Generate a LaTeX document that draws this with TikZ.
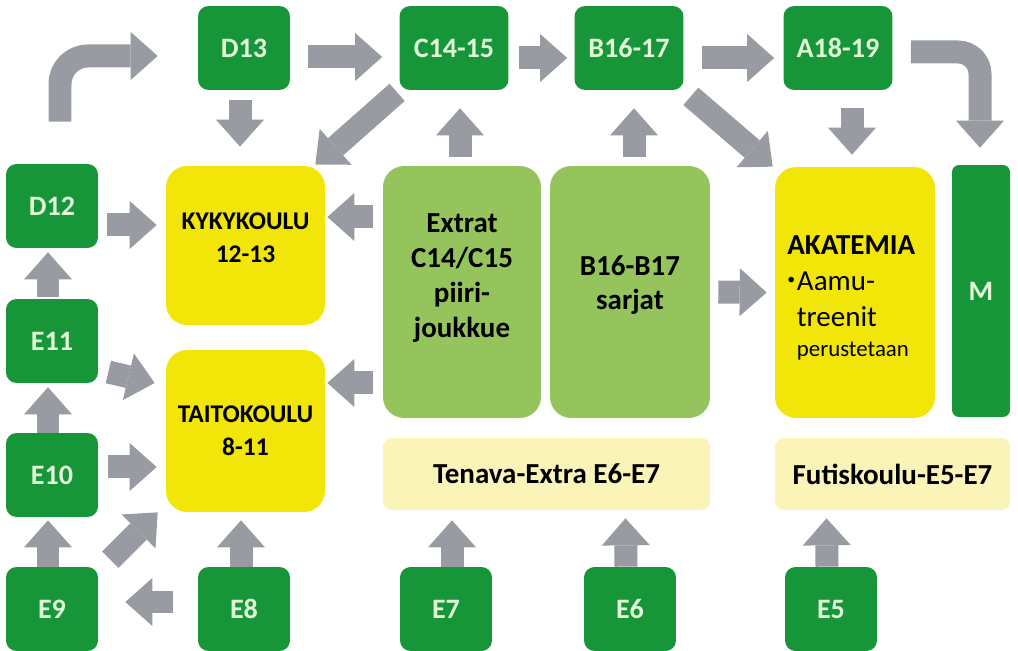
\documentclass[tikz,border=0pt]{standalone}
\usepackage{fontspec}
\setmainfont{Carlito}
\usepackage{xcolor}
\usepackage{tikz}
\usetikzlibrary{calc}
\usetikzlibrary{arrows.meta}
\definecolor{agegreen}{RGB}{22,150,56}
\definecolor{agetext}{RGB}{226,246,216}
\definecolor{kouluyellow}{RGB}{242,230,8}
\definecolor{extragreen}{RGB}{150,196,92}
\definecolor{paleyellow}{RGB}{250,244,184}
\definecolor{arrowgray}{RGB}{152,156,162}
\newcommand{\pikkupallo}{\raisebox{3pt}{\fontsize{9}{9}\selectfont\textbullet}\hspace{1pt}}
\tikzset{
	agebox/.style={rectangle,rounded corners=6pt,fill=agegreen,text=agetext,inner sep=0pt,minimum width=1.84cm,minimum height=1.68cm,font=\fontsize{16}{19}\selectfont\bfseries},
	widebox/.style={agebox,minimum width=2.18cm},
	bigbox/.style={rectangle,rounded corners=12pt,inner sep=0pt},
	bandbox/.style={rectangle,rounded corners=5pt,fill=paleyellow,inner sep=0pt,minimum height=1.44cm,font=\fontsize{16.5}{20}\selectfont\bfseries},
	koulutext/.style={align=center,inner sep=0pt,font=\fontsize{14.5}{18.7}\selectfont\bfseries},
	extratext/.style={align=center,inner sep=0pt,font=\fontsize{16.5}{19.8}\selectfont\bfseries},
	bigarrow/.style={draw=arrowgray,line width=0.46cm,-{Triangle[width=0.96cm,length=0.54cm,line width=0pt]}}
}
\begin{document}
\begin{tikzpicture}[x=0.02cm,y=-0.02cm]
	\useasboundingbox (0,0) rectangle (1018,651);
	% ikaluokat
	\node[agebox] (D13) at (244,48) {D13};
	\node[widebox] (C14) at (454,48) {C14-15};
	\node[widebox] (B16) at (629,48) {B16-17};
	\node[widebox] (A18) at (838,48) {A18-19};
	\node[agebox] (D12) at (52,206) {D12};
	\node[agebox] (E11) at (52,341) {E11};
	\node[agebox] (E10) at (52,475) {E10};
	\node[agebox] (E9) at (52,609) {E9};
	\node[agebox] (E8) at (244,609) {E8};
	\node[agebox] (E7) at (446,609) {E7};
	\node[agebox] (E6) at (630,609) {E6};
	\node[agebox] (E5) at (831,609) {E5};
	\node[agebox,rounded corners=4pt,minimum width=1.16cm,minimum height=5.04cm] (M) at (981,291) {M};
	% koulut
	\node[bigbox,fill=kouluyellow,minimum width=3.18cm,minimum height=3.18cm] (Kyky) at (245.5,245.5) {};
	\node[koulutext] (Kyky-text) at (245.5,238) {KYKYKOULU\\12-13};
	\node[bigbox,fill=kouluyellow,minimum width=3.18cm,minimum height=3.24cm] (Taito) at (245.5,431) {};
	\node[koulutext] (Taito-text) at (245.5,431) {TAITOKOULU\\8-11};
	\node[bigbox,fill=extragreen,minimum width=3.16cm,minimum height=5.04cm] (Extrat) at (462,292) {};
	\node[extratext] (Extrat-text) at (462,278) {Extrat\\C14/C15\\piiri-\\joukkue};
	\node[bigbox,fill=extragreen,minimum width=3.2cm,minimum height=5.04cm] (Sarjat) at (630,292) {};
	\node[extratext] (Sarjat-text) at (630,285) {B16-B17\\sarjat};
	\node[bigbox,fill=kouluyellow,minimum width=3.2cm,minimum height=5.02cm] (Akatemia) at (855,292.5) {};
	\node[align=left,inner sep=0pt,anchor=north west,font=\fontsize{16.5}{20.5}\selectfont] (Akatemia-text) at (787,235) {\textbf{AKATEMIA}\\\pikkupallo Aamu-\\\phantom{\pikkupallo}treenit\\[-3pt]\phantom{\pikkupallo}{\fontsize{13}{16}\selectfont perustetaan}};
	\node[bandbox,minimum width=6.54cm] (Tenava) at (546.5,474) {Tenava-Extra E6-E7};
	\node[bandbox,minimum width=4.7cm] (Futis) at (892.5,474) {Futiskoulu-E5-E7};
	% nuolet ylarivi
	\draw[bigarrow,rounded corners=0.56cm] ($(D12.north)+(8,-42)$) |- ($(D13.west)+(-40,8)$);
	\draw[bigarrow] ($(D13.east)+(18,9)$) -- ($(C14.west)+(-17,9)$);
	\draw[bigarrow] ($(C14.east)+(10,10)$) -- ($(B16.west)+(-7,10)$);
	\draw[bigarrow] ($(B16.east)+(18,10)$) -- ($(A18.west)+(-9,10)$);
	\draw[bigarrow,rounded corners=0.44cm] ($(A18.east)+(18,4)$) -| ($(M.north)+(-1,-17)$);
	\draw[bigarrow] ($(D13.south)+(-4,10)$) -- ($(Kyky.north)+(-5.5,-19)$);
	\draw[bigarrow] ($(C14.south west)+(-2,2)$) -- ($(Kyky.north east)+(-10,-1)$);
	\draw[bigarrow] ($(Extrat.north)+(-2,-9)$) -- ($(C14.south)+(6,18)$);
	\draw[bigarrow] ($(Sarjat.north)+(4,-9)$) -- ($(B16.south)+(5,18)$);
	\draw[bigarrow] ($(B16.south east)+(7,6)$) -- ($(Akatemia.north west)+(-2,0)$);
	\draw[bigarrow] ($(A18.south)+(14,18)$) -- ($(Akatemia.north)+(-3,-12)$);
	% nuolet keskella
	\draw[bigarrow] ($(D12.east)+(9,19)$) -- ($(Kyky.west)+(-9,-20.5)$);
	\draw[bigarrow] ($(Extrat.west)+(-10,-75)$) -- ($(Kyky.east)+(2,-28.5)$);
	\draw[bigarrow] ($(E11.north)+(-4,-2)$) -- ($(D12.south)+(-4,4)$);
	\draw[bigarrow] ($(E11.east)+(10,31)$) -- ($(Taito.west)+(-11,-48)$);
	\draw[bigarrow] ($(E10.north)+(-4,0)$) -- ($(E11.south)+(-4,4)$);
	\draw[bigarrow] ($(E10.east)+(10,-8)$) -- ($(Taito.west)+(-9,36)$);
	\draw[bigarrow] ($(Extrat.west)+(-10,91)$) -- ($(Taito.east)+(2,-48)$);
	\draw[bigarrow] ($(Sarjat.east)+(8,0)$) -- ($(Akatemia.west)+(-8,0)$);
	% nuolet alarivi
	\draw[bigarrow] ($(E9.north)+(-4,0)$) -- ($(E10.south)+(-4,3)$);
	\draw[bigarrow] ($(E9.north east)+(12,-7)$) -- ($(Taito.south west)+(-8,0)$);
	\draw[bigarrow] ($(E8.west)+(-25,-7)$) -- ($(E9.east)+(27,-7)$);
	\draw[bigarrow] ($(E8.north)+(-3,0)$) -- ($(Taito.south)+(-4.5,8)$);
	\draw[bigarrow] ($(E7.north)+(6,0)$) -- ($(Tenava.south)+(-94.5,10)$);
	\draw[bigarrow] ($(E6.north)+(-4,0)$) -- ($(Tenava.south)+(79,8)$);
	\draw[bigarrow] ($(E5.north)+(-4,0)$) -- ($(Futis.south)+(-66,8)$);
\end{tikzpicture}
\end{document}
